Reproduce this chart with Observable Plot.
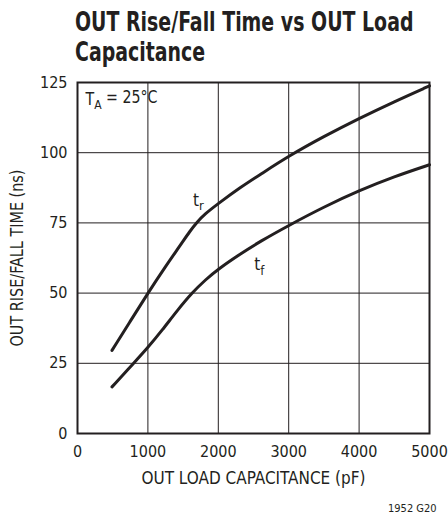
<!DOCTYPE html>
<html>
<head>
<meta charset="utf-8">
<script src="https://cdn.jsdelivr.net/npm/d3@7"></script>
<script src="https://cdn.jsdelivr.net/npm/@observablehq/plot@0.6"></script>
<style>
  html, body { margin: 0; padding: 0; background: #fff; }
  body { width: 448px; height: 519px; position: relative; overflow: hidden;
         font-family: "Liberation Sans Narrow", "DejaVu Sans Condensed", "DejaVu Sans", sans-serif; font-stretch: condensed; color: #231f20; }
  #title { position: absolute; left: 75px; top: 7px; font-size: 26px; line-height: 30px; font-weight: bold;
           white-space: nowrap; transform: scaleX(0.81); transform-origin: 0 0; }
  #chart { position: absolute; left: 0; top: 70px; }
  #caption { position: absolute; left: 388px; top: 502px; font-size: 11px; white-space: nowrap; }
</style>
</head>
<body>
<div id="title">OUT Rise/Fall Time vs OUT Load<br>Capacitance</div>
<div id="chart"></div>
<div id="caption">1952 G20</div>
<script>
const xTicks = [0, 1000, 2000, 3000, 4000, 5000];
const yTicks = [0, 25, 50, 75, 100, 125];
const xLabel = "OUT LOAD CAPACITANCE (pF)";
const yLabel = "OUT RISE/FALL TIME (ns)";

// rise time t_r (ns) vs load capacitance (pF)
const capRise = [490, 750, 1000, 1250, 1460, 1600, 1700, 1800, 2000, 2315, 2600, 3000, 3500, 4000, 4500, 5000];
const riseTime = [29.6, 40, 50, 59.5, 67, 72.2, 75.3, 78, 81.9, 87.7, 92.3, 98.8, 105.8, 112.2, 118.2, 123.8];
// fall time t_f (ns) vs load capacitance (pF)
const capFall = [490, 800, 1000, 1200, 1420, 1630, 1820, 2000, 2315, 2600, 3000, 3500, 4000, 4500, 5000];
const fallTime = [16.6, 25.1, 30.6, 36.7, 43.9, 50.2, 54.8, 58.6, 64, 68.5, 74.1, 80.7, 86.5, 91.5, 95.7];

// annotations: main text, subscript, rest
const noteMain = ["t", "t", "T"];
const noteSub = ["r", "f", "A"];
const noteRest = ["", "", " = 25°C"];
const noteX = [1640, 2510, 114];
const noteY = [83, 60, 119];

const rise = capRise.map((c, i) => ({c, t: riseTime[i]}));
const fall = capFall.map((c, i) => ({c, t: fallTime[i]}));
const notes = noteMain.map((m, i) => ({m, s: noteSub[i], r: noteRest[i], x: noteX[i], y: noteY[i]}));

const ink = "#231f20";
const fontStack = '"Liberation Sans Narrow", "DejaVu Sans Condensed", "DejaVu Sans", sans-serif';

const plot = Plot.plot({
  width: 448,
  height: 428,
  marginLeft: 77,
  marginRight: 19,
  marginTop: 12,
  marginBottom: 65,
  style: {fontFamily: fontStack, fontSize: "16px", color: ink, background: "white", fontStretch: "condensed"},
  x: {domain: [0, 5000], label: null},
  y: {domain: [0, 125], label: null},
  marks: [
    Plot.gridX(xTicks, {stroke: ink, strokeOpacity: 1, strokeWidth: 1}),
    Plot.gridY(yTicks, {stroke: ink, strokeOpacity: 1, strokeWidth: 1}),
    Plot.frame({stroke: ink, strokeWidth: 2}),
    Plot.axisX(xTicks, {tickSize: 0, tickPadding: 12, label: null, fontSize: 16, tickFormat: d => String(d)}),
    Plot.axisY(yTicks, {tickSize: 0, tickPadding: 10, label: null, fontSize: 16, tickFormat: d => String(d)}),
    Plot.line(rise, {x: "c", y: "t", stroke: ink, strokeWidth: 3, curve: "basis"}),
    Plot.line(fall, {x: "c", y: "t", stroke: ink, strokeWidth: 3, curve: "basis"}),
    Plot.text(notes, {x: "x", y: "y", text: d => d.m + d.s + d.r, textAnchor: "start", fontSize: 17, fill: ink}),
    Plot.text([xLabel], {frameAnchor: "bottom", textAnchor: "middle", lineAnchor: "middle", dy: 45, fontSize: 18, fill: ink}),
    Plot.text([yLabel], {frameAnchor: "left", textAnchor: "middle", lineAnchor: "middle", dx: -60, rotate: -90, fontSize: 18, fill: ink})
  ]
});

// subscripts as tspans, and condensed label widths
d3.select(plot).selectAll("text").each(function() {
  const el = d3.select(this);
  const txt = this.textContent;
  if (txt === xLabel) { el.attr("textLength", 224).attr("lengthAdjust", "spacingAndGlyphs"); return; }
  if (txt === yLabel) { el.attr("textLength", 177).attr("lengthAdjust", "spacingAndGlyphs"); return; }
  const n = notes.find(d => d.m + d.s + d.r === txt);
  if (!n || this.querySelector("tspan")) return;
  el.text(null);
  el.append("tspan").text(n.m);
  el.append("tspan").attr("dy", "0.35em").attr("font-size", "13px").text(n.s);
  if (n.r) {
    el.append("tspan").attr("dy", "-0.35em").text(n.r);
    el.attr("textLength", 72).attr("lengthAdjust", "spacingAndGlyphs");
  }
});

document.getElementById("chart").appendChild(plot);
</script>
</body>
</html>
